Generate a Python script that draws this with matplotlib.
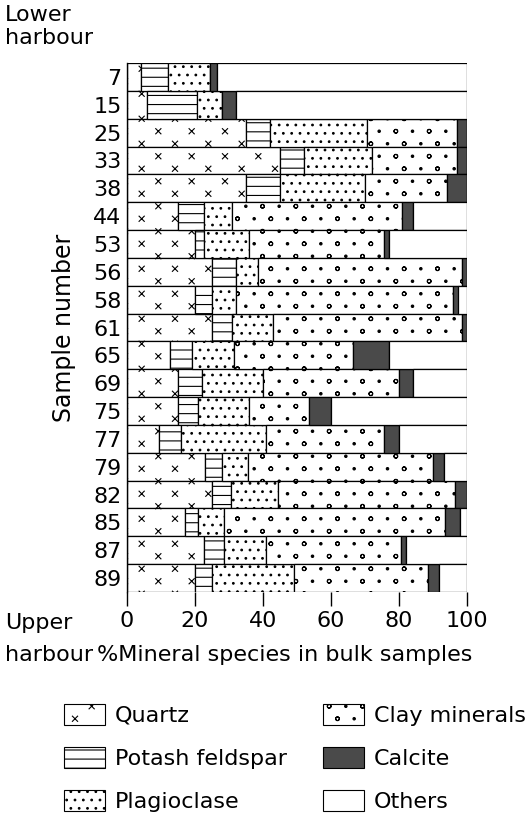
import matplotlib
matplotlib.use("Agg")
import matplotlib.pyplot as plt
import matplotlib.hatch as mhatch
from matplotlib.path import Path
from matplotlib.patches import Patch
import numpy as np

# ---------------- data ----------------
samples = ["7", "15", "25", "33", "38", "44", "53", "56", "58", "61",
           "65", "69", "75", "77", "79", "82", "85", "87", "89"]
quartz = [4, 6, 35, 45, 35, 15, 20, 25, 20, 25,
          12.5, 15, 15, 9.5, 23, 25, 17, 22.5, 20]
potash = [8, 14.5, 7, 7, 10, 7.5, 2.5, 7, 5, 6,
          6.5, 7, 6, 6.5, 5, 5.5, 4, 6, 5]
plagio = [12.5, 7.5, 28.5, 20, 25, 8.5, 13.5, 6.5, 7, 12,
          12.5, 18, 15, 25, 7.5, 14, 7.5, 12.5, 24]
clay = [0, 0, 26.5, 25, 24, 50, 39.5, 60, 64, 55.5,
        35, 40, 17.5, 34.5, 54.5, 52, 65, 39.5, 39.5]
calcite = [2, 4, 3, 3, 6, 3, 1.5, 1.5, 1.5, 1.5,
           10.5, 4, 6.5, 4.5, 3.3, 3.5, 4.5, 1.5, 3.3]
others = [100 - (a + b + c + d + e) for a, b, c, d, e in
          zip(quartz, potash, plagio, clay, calcite)]

species = ["Quartz", "Potash feldspar", "Plagioclase",
           "Clay minerals", "Calcite", "Others"]
xticks = [0, 20, 40, 60, 80, 100]


# ---------------- custom sparse hatches (rendering style only) ----------------
def _grid(ncols, nrows, keep=lambda j, k: True):
    pts = []
    for k in range(nrows):
        for j in range(ncols):
            if keep(j, k):
                pts.append(((j + 0.25 + 0.5 * (k % 2)) / ncols, (k + 0.5) / nrows))
    return pts


_circ = Path.unit_circle()
_ring_v = np.concatenate([_circ.vertices, _circ.vertices[::-1] * 0.9])
_ring_c = np.concatenate([_circ.codes, _circ.codes])


class PointPattern(mhatch.HatchPatternBase):
    char = None
    positions = []
    shape_vertices = None
    shape_codes = None
    scale = 0.03

    def __init__(self, hatch, density):
        active = self.char in hatch
        self.num_vertices = (len(self.positions) * len(self.shape_vertices)
                             if active else 0)

    def set_vertices_and_codes(self, vertices, codes):
        vparts, cparts = [], []
        for px, py in self.positions:
            vparts.append(self.shape_vertices * self.scale + [px, py])
            cparts.append(self.shape_codes)
        np.concatenate(vparts, out=vertices)
        np.concatenate(cparts, out=codes)


class QuartzX(PointPattern):
    char = '*'
    positions = _grid(3, 8)
    shape_vertices = np.array([[-1, -1], [1, 1], [-1, 1], [1, -1]], float)
    shape_codes = np.array([Path.MOVETO, Path.LINETO, Path.MOVETO, Path.LINETO],
                           dtype=Path.code_type)
    scale = 0.026


class ClayRings(PointPattern):
    char = 'O'
    positions = _grid(6, 8, lambda j, k: (j + k) % 2 == 0)
    shape_vertices = _ring_v
    shape_codes = _ring_c
    scale = 0.019


class ClayDots(PointPattern):
    char = 'o'
    positions = _grid(6, 8, lambda j, k: (j + k) % 2 == 1)
    shape_vertices = _circ.vertices
    shape_codes = _circ.codes
    scale = 0.012


class FeldsparLines(mhatch.HorizontalHatch):
    def __init__(self, hatch, density):
        self.num_lines = 11 if '-' in hatch else 0
        self.num_vertices = self.num_lines * 2


try:
    new_types = []
    for t in mhatch._hatch_types:
        if t is mhatch.HorizontalHatch:
            new_types.append(FeldsparLines)
        elif t is mhatch.Stars:
            new_types.append(QuartzX)
        elif t is mhatch.LargeCircles:
            new_types.append(ClayRings)
        elif t is mhatch.SmallCircles:
            new_types.append(ClayDots)
        else:
            new_types.append(t)
    mhatch._hatch_types[:] = new_types
except Exception:
    pass

plt.rcParams['font.family'] = ['DejaVu Sans']
plt.rcParams['hatch.linewidth'] = 0.8
plt.rcParams['hatch.color'] = 'black'

styles = [
    dict(color='white', hatch='*'),
    dict(color='white', hatch='-'),
    dict(color='white', hatch='..'),
    dict(color='white', hatch='Oo'),
    dict(color='#4a4a4a', hatch=None),
    dict(color='white', hatch=None),
]

W, H = 530, 816
fig = plt.figure(figsize=(W / 100, H / 100), dpi=100)
ax = fig.add_axes([127 / W, 1 - 592 / H, 340 / W, 529 / H])

y = np.arange(len(samples))
series = [quartz, potash, plagio, clay, calcite, others]
left = np.zeros(len(samples))
for vals, st in zip(series, styles):
    vals = np.asarray(vals, float)
    ax.barh(y, vals, left=left, height=1.0, color=st['color'],
            edgecolor='black', linewidth=0.9, hatch=st['hatch'])
    left = left + vals

FS = 16
ax.set_xlim(0, 100)
ax.set_ylim(len(samples) - 0.5, -0.5)
ax.set_yticks(y)
ax.set_yticklabels(samples, fontsize=FS)
ax.set_xticks(xticks)
ax.set_xticklabels([str(v) for v in xticks], fontsize=FS)
ax.tick_params(axis='y', length=0, pad=4)
ax.tick_params(axis='x', length=10, width=1, pad=4, direction='out')
for s in ['top', 'right', 'bottom']:
    ax.spines[s].set_visible(False)
ax.spines['left'].set_linewidth(1)
ax.set_ylabel("Sample number", fontsize=FS + 1, labelpad=12)

fig.text(5 / W, 1 - 5 / H, "Lower\nharbour", fontsize=FS, ha='left', va='top',
         linespacing=1.2)
fig.text(5 / W, 1 - 629 / H, "Upper", fontsize=FS, ha='left', va='baseline')
fig.text(5 / W, 1 - 661 / H, "harbour", fontsize=FS, ha='left', va='baseline')
fig.text(97 / W, 1 - 661 / H, "%Mineral species in bulk samples", fontsize=FS,
         ha='left', va='baseline')

handles = [Patch(facecolor=st['color'], edgecolor='black', hatch=st['hatch'],
                 linewidth=0.8) for st in styles]
fig.legend(handles, species, ncol=2, loc='upper left',
           bbox_to_anchor=(55 / W, 1 - 695 / H), frameon=False, fontsize=FS,
           handlelength=1.85, handleheight=1.08, labelspacing=0.95,
           columnspacing=1.6, handletextpad=0.45, borderaxespad=0)

fig.savefig("out.png", dpi=100)
